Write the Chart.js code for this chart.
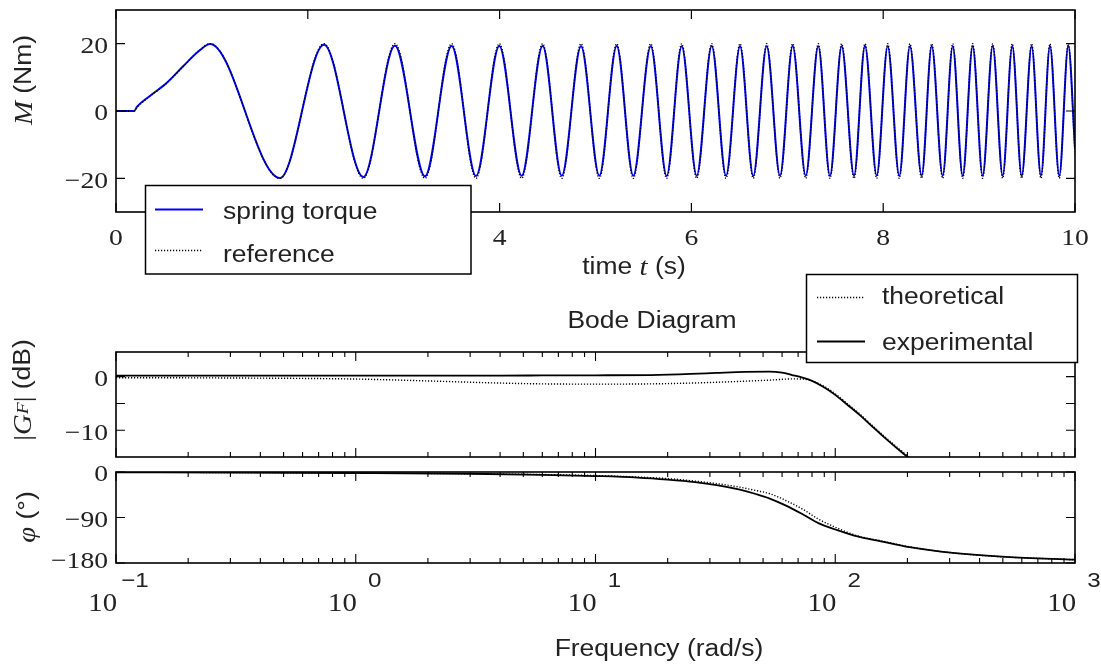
<!DOCTYPE html>
<html>
<head>
<meta charset="utf-8">
<script src="https://cdn.jsdelivr.net/npm/chart.js@4.4.1/dist/chart.umd.min.js"></script>
<style>
html, body { margin: 0; padding: 0; background: #fff; }
#wrap { position: relative; width: 1101px; height: 666px; }
#wrap canvas { position: absolute; left: 0; top: 0; }
</style>
</head>
<body>
<div id="wrap">
  <canvas id="bodePhase" width="1101" height="666"></canvas>
  <canvas id="bodeMag" width="1101" height="666"></canvas>
  <canvas id="timeChart" width="1101" height="666"></canvas>
</div>
<script>
// ---- time response (chirp) at peaks / troughs ----
const timeS = [0, 0.19, 0.22, 0.35, 0.53, 0.70, 0.876, 0.98,
  1.71, 2.169, 2.579, 2.909, 3.222, 3.50, 3.754, 3.997, 4.23, 4.449,
  4.648, 4.849, 5.04, 5.221, 5.394, 5.576, 5.742, 5.899, 6.055, 6.212,
  6.361, 6.507, 6.645, 6.785, 6.924, 7.056, 7.192, 7.323, 7.445, 7.567,
  7.696, 7.81, 7.932, 8.047, 8.168, 8.279, 8.401, 8.506, 8.62, 8.725,
  8.829, 8.933, 9.037, 9.142, 9.246, 9.346, 9.444, 9.548, 9.645, 9.739,
  9.836, 9.93, 10.0];
const referenceNm = [0, 0, 1.1, 4.3, 8.3, 13.2, 18.2, 20,
  -20, 20, -20, 20, -20, 20, -20, 20, -20, 20,
  -20, 20, -20, 20, -20, 20, -20, 20, -20, 20,
  -20, 20, -20, 20, -20, 20, -20, 20, -20, 20,
  -20, 20, -20, 20, -20, 20, -20, 20, -20, 20,
  -20, 20, -20, 20, -20, 20, -20, 20, -20, 20,
  -20, 20, -13];
const springTorqueNm = [0, 0, 1.3, 4.4, 8.4, 13.3, 18.1, 19.9,
  -19.9, 19.7, -19.6, 19.4, -19.4, 19.3, -19.3, 19.3, -19.2, 19.3,
  -19.2, 19.2, -19.2, 19.3, -19.2, 19.2, -19.3, 19.2, -19.2, 19.3,
  -19.2, 19.2, -19.3, 19.2, -19.2, 19.3, -19.2, 19.2, -19.3, 19.2,
  -19.2, 19.3, -19.2, 19.2, -19.3, 19.2, -19.2, 19.3, -19.2, 19.2,
  -19.3, 19.2, -19.2, 19.3, -19.2, 19.2, -19.3, 19.2, -19.2, 19.3,
  -19.2, 19.4, -11];
const timeTicks = [0, 2, 4, 6, 8, 10];
const torqueTicks = [-20, 0, 20];

// ---- Bode magnitude ----
const freqMag = [0.1, 0.3, 1, 2, 4, 6, 10, 17, 25, 32, 42, 53, 60, 66, 73, 80,
  89, 100, 112, 126, 141, 158, 178, 200, 251, 316, 1000];
const magExperimental = [0.2, 0.2, 0.2, 0.2, 0.2, 0.22, 0.25, 0.3, 0.5, 0.7, 0.9, 0.95, 0.75, 0.3, -0.2, -0.8,
  -1.9, -3.4, -5.2, -7.1, -9.1, -11.1, -13.1, -15.0, -18.8, -22.7, -42];
const magTheoretical = [-0.2, -0.25, -0.45, -0.8, -1.2, -1.35, -1.4, -1.35, -1.2, -1.05, -0.85, -0.65, -0.5, -0.42, -0.45, -0.8,
  -1.7, -3.2, -5.0, -6.9, -8.9, -10.9, -12.9, -14.8, -18.6, -22.5, -42];
const magTicks = [-10, -5, 0];
const magLabels = [-10, 0];

// ---- Bode phase ----
const freqPhase = [0.1, 0.3, 1, 3, 6, 10, 15, 20, 26, 32, 40, 47, 53, 62, 74, 85,
  102, 125, 155, 204, 309, 513, 1000];
const phaseExperimental = [-0.5, -1, -2, -3.5, -5.5, -8, -11, -15, -20, -26, -35, -44, -52, -66, -85, -101,
  -115, -128, -137, -148.6, -160, -168, -173.4];
const phaseTheoretical = [-0.5, -1, -2, -3.5, -5, -7, -10, -13, -18, -23, -30, -37, -42.5, -56, -75, -93,
  -111, -127, -136, -148, -160, -168, -173.4];
const phaseTicks = [-180, -90, 0];
const decades = [-1, 0, 1, 2, 3];

const SANS = '"Liberation Sans", Arial, sans-serif';
const SERIF = '"Liberation Serif", "Times New Roman", serif';
const STRETCH = 1.15;
const INK = '#222';
const MINUS = '\u2212';

function pairs(xs, ys) {
  return xs.map((x, i) => ({ x: x, y: ys[i] }));
}

function textW(ctx, s, font) {
  ctx.font = font;
  return ctx.measureText(s).width * STRETCH;
}

// draw a run of text pieces with mixed fonts, slightly widened like the original
function drawRich(ctx, parts, x, y, align) {
  let total = 0;
  parts.forEach(p => { total += textW(ctx, p.t, p.f); });
  let cx = align === 'center' ? x - total / 2 : (align === 'right' ? x - total : x);
  parts.forEach(p => {
    const w = textW(ctx, p.t, p.f);
    ctx.save();
    ctx.font = p.f;
    ctx.fillStyle = INK;
    ctx.textAlign = 'left';
    ctx.textBaseline = 'middle';
    ctx.translate(cx, y + (p.dy || 0));
    ctx.scale(STRETCH, 1);
    ctx.fillText(p.t, 0, 0);
    ctx.restore();
    cx += w;
  });
}

function drawRotated(ctx, parts, x, y) {
  ctx.save();
  ctx.translate(x, y);
  ctx.rotate(-Math.PI / 2);
  drawRich(ctx, parts, 0, 0, 'center');
  ctx.restore();
}

function num(v) {
  return v < 0 ? MINUS + Math.abs(v) : String(v);
}

function drawFrame(ctx, a) {
  ctx.save();
  ctx.strokeStyle = '#000';
  ctx.lineWidth = 1.6;
  ctx.strokeRect(a.left, a.top, a.right - a.left, a.bottom - a.top);
  ctx.restore();
}

function xTick(ctx, a, px, len) {
  ctx.beginPath();
  ctx.moveTo(px, a.bottom); ctx.lineTo(px, a.bottom - len);
  ctx.moveTo(px, a.top); ctx.lineTo(px, a.top + len);
  ctx.stroke();
}

function yTick(ctx, a, py, len) {
  ctx.beginPath();
  ctx.moveTo(a.left, py); ctx.lineTo(a.left + len, py);
  ctx.moveTo(a.right, py); ctx.lineTo(a.right - len, py);
  ctx.stroke();
}

function drawLegend(ctx, box, entries) {
  ctx.save();
  ctx.fillStyle = '#fff';
  ctx.fillRect(box.x, box.y, box.w, box.h);
  ctx.strokeStyle = '#000';
  ctx.lineWidth = 1.5;
  ctx.strokeRect(box.x, box.y, box.w, box.h);
  entries.forEach(e => {
    ctx.save();
    ctx.strokeStyle = e.color;
    ctx.lineWidth = e.width;
    ctx.setLineDash(e.dash);
    ctx.beginPath();
    ctx.moveTo(e.x0, e.y); ctx.lineTo(e.x1, e.y);
    ctx.stroke();
    ctx.restore();
    drawRich(ctx, [{ t: e.label, f: '23px ' + SANS }], e.tx, e.ty, 'left');
  });
  ctx.restore();
}

function logTicks(fn) {
  decades.forEach(k => {
    for (let m = 1; m <= 9; m++) {
      const v = m * Math.pow(10, k);
      if (v > 1000) break;
      fn(v, m === 1);
    }
  });
}

const timeDecor = {
  id: 'timeDecor',
  afterDraw(chart) {
    const ctx = chart.ctx, a = chart.chartArea;
    const xs = chart.scales.x, ys = chart.scales.y;
    drawFrame(ctx, a);
    ctx.save();
    ctx.strokeStyle = '#000';
    ctx.lineWidth = 1.2;
    timeTicks.forEach(v => xTick(ctx, a, xs.getPixelForValue(v), 9));
    torqueTicks.forEach(v => yTick(ctx, a, ys.getPixelForValue(v), 9));
    ctx.restore();
    torqueTicks.forEach(v => {
      drawRich(ctx, [{ t: num(v), f: '24px ' + SERIF }], a.left - 8, ys.getPixelForValue(v) + 3, 'right');
    });
    timeTicks.forEach(v => {
      drawRich(ctx, [{ t: num(v), f: '24px ' + SERIF }], xs.getPixelForValue(v), 239, 'center');
    });
    drawRich(ctx, [
      { t: 'time ', f: '23px ' + SANS },
      { t: 't', f: 'italic 25px ' + SERIF },
      { t: ' (s)', f: '23px ' + SANS }
    ], 634, 268, 'center');
    drawRotated(ctx, [
      { t: 'M', f: 'italic 25px ' + SERIF },
      { t: ' (Nm)', f: '23px ' + SANS }
    ], 25, 80);
    drawLegend(ctx, { x: 145.5, y: 185.5, w: 325.5, h: 88.5 }, [
      { color: '#0000ff', width: 2, dash: [], x0: 155, x1: 203, y: 209.5, label: 'spring torque', tx: 223, ty: 213 },
      { color: '#000', width: 1.4, dash: [1.2, 1.8], x0: 155, x1: 203, y: 250.5, label: 'reference', tx: 223, ty: 256 }
    ]);
  }
};

const magDecor = {
  id: 'magDecor',
  afterDraw(chart) {
    const ctx = chart.ctx, a = chart.chartArea;
    const xs = chart.scales.x, ys = chart.scales.y;
    drawFrame(ctx, a);
    ctx.save();
    ctx.strokeStyle = '#000';
    ctx.lineWidth = 1.1;
    logTicks((v, major) => xTick(ctx, a, xs.getPixelForValue(v), major ? 9 : 5));
    magTicks.forEach(v => yTick(ctx, a, ys.getPixelForValue(v), 9));
    ctx.restore();
    magLabels.forEach(v => {
      drawRich(ctx, [{ t: num(v), f: '24px ' + SERIF }], a.left - 8, ys.getPixelForValue(v) + 3, 'right');
    });
    drawRotated(ctx, [
      { t: '|', f: '25px ' + SERIF },
      { t: 'G', f: 'italic 25px ' + SERIF },
      { t: 'F', f: 'italic 17px ' + SERIF, dy: 0 },
      { t: '|', f: '25px ' + SERIF },
      { t: ' (dB)', f: '23px ' + SANS }
    ], 24, 390);
    drawRich(ctx, [{ t: 'Bode Diagram', f: '23px ' + SANS }], 652, 322, 'center');
    drawLegend(ctx, { x: 806.5, y: 274.5, w: 271, h: 88 }, [
      { color: '#000', width: 1.4, dash: [1.2, 1.8], x0: 817, x1: 865, y: 297.5, label: 'theoretical', tx: 882, ty: 298 },
      { color: '#000', width: 1.8, dash: [], x0: 817, x1: 865, y: 341.5, label: 'experimental', tx: 882, ty: 344 }
    ]);
  }
};

const phaseDecor = {
  id: 'phaseDecor',
  afterDraw(chart) {
    const ctx = chart.ctx, a = chart.chartArea;
    const xs = chart.scales.x, ys = chart.scales.y;
    drawFrame(ctx, a);
    ctx.save();
    ctx.strokeStyle = '#000';
    ctx.lineWidth = 1.1;
    logTicks((v, major) => xTick(ctx, a, xs.getPixelForValue(v), major ? 9 : 5));
    phaseTicks.forEach(v => yTick(ctx, a, ys.getPixelForValue(v), 9));
    ctx.restore();
    phaseTicks.forEach(v => {
      const py = Math.min(ys.getPixelForValue(v) + 3, 562);
      drawRich(ctx, [{ t: num(v), f: '24px ' + SERIF }], a.left - 8, py, 'right');
    });
    decades.forEach(k => {
      const px = xs.getPixelForValue(Math.pow(10, k));
      drawRich(ctx, [{ t: '10', f: '25px ' + SERIF }], px + 1, 604, 'right');
      drawRich(ctx, [{ t: num(k), f: '21px ' + SANS }], px + 19, 581, 'center');
    });
    drawRich(ctx, [{ t: 'Frequency (rad/s)', f: '23px ' + SANS }], 659, 650, 'center');
    drawRotated(ctx, [
      { t: '\u03c6', f: 'italic 25px ' + SERIF },
      { t: ' (\u00b0)', f: '23px ' + SANS }
    ], 28, 517);
  }
};

function baseOptions(padding, xScale, yScale) {
  return {
    responsive: false,
    animation: false,
    layout: { padding: padding },
    elements: { point: { radius: 0 } },
    plugins: { legend: { display: false }, tooltip: { enabled: false } },
    scales: { x: xScale, y: yScale }
  };
}

new Chart(document.getElementById('timeChart'), {
  type: 'line',
  data: {
    datasets: [
      {
        label: 'reference',
        data: pairs(timeS, referenceNm),
        borderColor: '#000',
        borderWidth: 1.4,
        borderDash: [1.2, 1.8],
        cubicInterpolationMode: 'monotone',
        order: 0
      },
      {
        label: 'spring torque',
        data: pairs(timeS, springTorqueNm),
        borderColor: '#0000ff',
        borderWidth: 2,
        cubicInterpolationMode: 'monotone',
        order: 1
      }
    ]
  },
  options: baseOptions({ left: 116, right: 26, top: 10, bottom: 454 },
    { type: 'linear', min: 0, max: 10, display: false },
    { type: 'linear', min: -30, max: 30, display: false }),
  plugins: [timeDecor]
});

new Chart(document.getElementById('bodeMag'), {
  type: 'line',
  data: {
    datasets: [
      {
        label: 'theoretical',
        data: pairs(freqMag, magTheoretical),
        borderColor: '#000',
        borderWidth: 1.4,
        borderDash: [1.2, 1.8],
        cubicInterpolationMode: 'monotone'
      },
      {
        label: 'experimental',
        data: pairs(freqMag, magExperimental),
        borderColor: '#000',
        borderWidth: 1.8,
        cubicInterpolationMode: 'monotone'
      }
    ]
  },
  options: baseOptions({ left: 116, right: 26, top: 352, bottom: 209 },
    { type: 'logarithmic', min: 0.1, max: 1000, display: false },
    { type: 'linear', min: -15, max: 4.6, display: false }),
  plugins: [magDecor]
});

new Chart(document.getElementById('bodePhase'), {
  type: 'line',
  data: {
    datasets: [
      {
        label: 'theoretical',
        data: pairs(freqPhase, phaseTheoretical),
        borderColor: '#000',
        borderWidth: 1.4,
        borderDash: [1.2, 1.8],
        cubicInterpolationMode: 'monotone'
      },
      {
        label: 'experimental',
        data: pairs(freqPhase, phaseExperimental),
        borderColor: '#000',
        borderWidth: 1.8,
        cubicInterpolationMode: 'monotone'
      }
    ]
  },
  options: baseOptions({ left: 116, right: 26, top: 472, bottom: 103 },
    { type: 'logarithmic', min: 0.1, max: 1000, display: false },
    { type: 'linear', min: -180, max: 0, display: false }),
  plugins: [phaseDecor]
});
</script>
</body>
</html>
